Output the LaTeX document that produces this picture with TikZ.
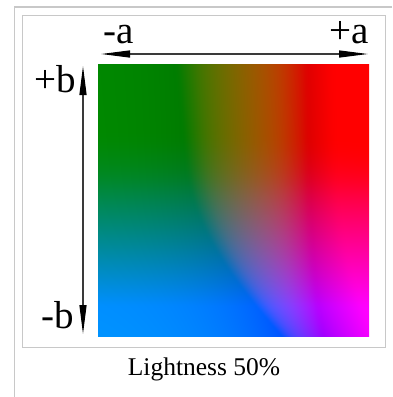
\documentclass[tikz,border=0pt]{standalone}
\usepackage{fontspec}
\setmainfont{Liberation Serif}
\usetikzlibrary{arrows.meta}
\definecolor{framegray}{HTML}{C8C8C8}
\definecolor{axisgray}{HTML}{3A3A3A}
\pgfdeclarefunctionalshading{labslice}{\pgfpoint{-50bp}{-50bp}}{\pgfpoint{50bp}{50bp}}{}{
0.024 mul neg 0.388 add
dup 0.206897 gt {dup dup mul mul} {0.137931 sub 0.128419 mul} ifelse 1.08883 mul
exch
0.012316 mul 0.50223 add
dup 0.206897 gt {dup dup mul mul} {0.137931 sub 0.128419 mul} ifelse 0.95047 mul
1 index 1 index 3.2406 mul exch 0.4986 mul sub 0.20752 sub
dup -0.035 lt {pop 0} {dup 0.035 lt {0.035 add dup mul 0.14 div} if} ifelse
dup 1.06 gt {pop 1} {dup 0.94 gt {1.06 exch sub dup mul 0.24 div 1 exch sub} if} ifelse
dup 0.0031308 le {12.92 mul} {0.416667 exp 1.055 mul 0.055 sub} ifelse
3 1 roll
1 index 1 index -0.9689 mul exch 0.0415 mul add 0.25323 add
dup -0.035 lt {pop 0} {dup 0.035 lt {0.035 add dup mul 0.14 div} if} ifelse
dup 1.06 gt {pop 1} {dup 0.94 gt {1.06 exch sub dup mul 0.24 div 1 exch sub} if} ifelse
dup 0.0031308 le {12.92 mul} {0.416667 exp 1.055 mul 0.055 sub} ifelse
3 1 roll
-0.02 mul exch 1.5062 mul add 0.0205 sub
dup -0.035 lt {pop 0} {dup 0.035 lt {0.035 add dup mul 0.14 div} if} ifelse
dup 1.06 gt {pop 1} {dup 0.94 gt {1.06 exch sub dup mul 0.24 div 1 exch sub} if} ifelse
dup 0.0031308 le {12.92 mul} {0.416667 exp 1.055 mul 0.055 sub} ifelse
}
\tikzset{
  frameline/.style={draw=framegray, line width=1.2pt},
  axislabel/.style={inner sep=0pt, anchor=base, font=\fontsize{39}{44}\selectfont},
  captionlabel/.style={inner sep=0pt, anchor=base, font=\fontsize{25.5}{30}\selectfont},
  axisarrow/.style={draw=axisgray, line width=1.3pt,
    {Triangle[length=29pt, width=7pt, color=black, fill=black]}-{Triangle[length=29pt, width=7pt, color=black, fill=black]}}
}
\begin{document}
\begin{tikzpicture}[x=1pt, y=-1pt]
\useasboundingbox (0,0) rectangle (392,397);
\fill[white] (0,0) rectangle (392,397);
% outer frame
\draw[frameline] (392,7) -- (14.5,7) -- (14.5,397);
% inner frame
\draw[draw=framegray, line width=1pt, fill=white] (22,15) rectangle (385,347);
% colour square
\shade[shading=labslice] (98,64) rectangle (369,336);
% axes
\coordinate (aL) at (101,54);
\coordinate (aR) at (368,54);
\coordinate (bT) at (83,66);
\coordinate (bB) at (83,334);
\draw[axisarrow] (aL) -- (aR);
\draw[axisarrow] (bT) -- (bB);
% labels
\node[axislabel] (ma) at (119,43) {-a};
\node[axislabel, anchor=base east] (pa) at (369,43) {+a};
\node[axislabel, anchor=base east] (pb) at (76,92) {+b};
\node[axislabel, anchor=base east] (mb) at (74,328) {-b};
\node[captionlabel] (cap) at (204,375) {Lightness 50\%};
\end{tikzpicture}
\end{document}
